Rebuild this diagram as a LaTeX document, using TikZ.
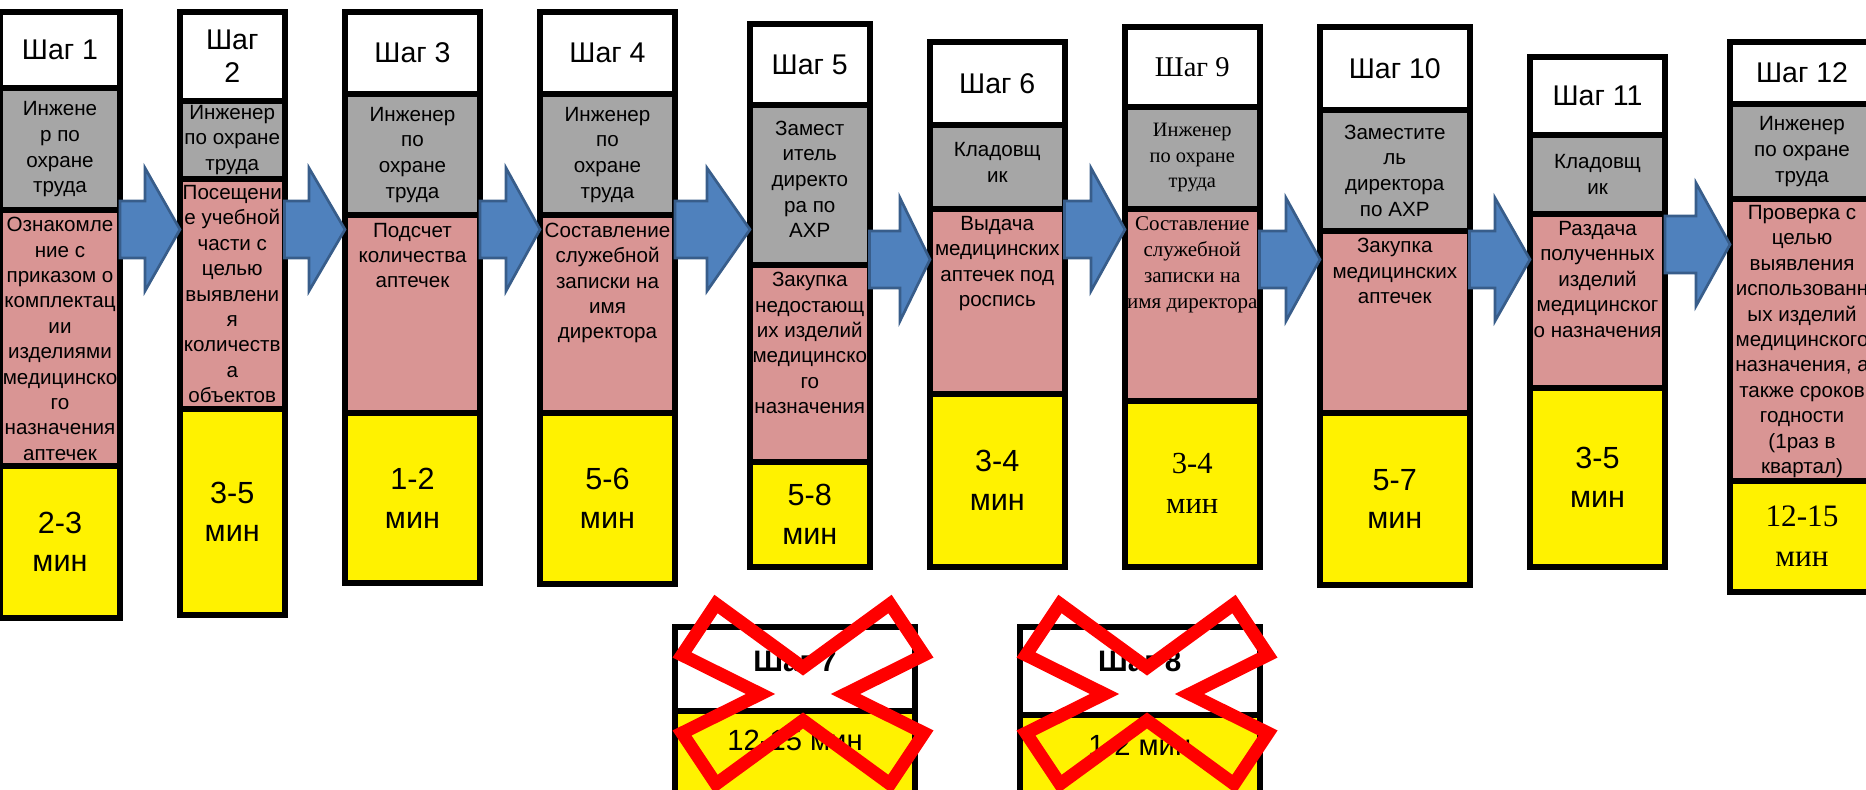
\documentclass[tikz,border=0pt]{standalone}
\usepackage{fontspec}
\setmainfont{Liberation Sans}
\newfontfamily\timesf{Liberation Serif}
\usepackage{tikz}
\usetikzlibrary{positioning,calc}
\newlength\px
\setlength\px{0.5pt}
\definecolor{rolegray}{HTML}{A6A6A6}
\definecolor{taskpink}{HTML}{D99594}
\definecolor{arrowblue}{HTML}{4F81BD}
\definecolor{arrowedge}{HTML}{385D8A}

% block arrow from column #1 to column #2, centred at height #3, head length #4
\newcommand\flow[4]{%
  \path (#1.east |- 0,#3) coordinate (#1o) (#2.west |- 0,#3) coordinate (#2i);
  \draw[blockarrow] ($(#1o)+(0,-28.5)$) -- ($(#2i)+(-#4,-28.5)$) -- ($(#2i)+(-#4,-61.5)$) -- (#2i)
    -- ($(#2i)+(-#4,61.5)$) -- ($(#2i)+(-#4,28.5)$) -- ($(#1o)+(0,28.5)$) -- cycle;}

\begin{document}
\begin{tikzpicture}[x=0.5pt, y=-0.5pt,
    cell/.style = {draw, line width=3pt, inner sep=0pt, outer sep=0pt, align=center, minimum width=#1\px},
    head/.style = {cell=#1, fill=white, font=\fontsize{14.25}{16.6}\selectfont},
    role/.style = {cell=#1, fill=rolegray, font=\fontsize{10.3}{12.85}\selectfont},
    task/.style = {cell=#1, fill=taskpink},
    time/.style = {cell=#1, fill=yellow, font=\fontsize{15.3}{19.25}\selectfont},
    tasktext/.style = {inner sep=0pt, align=center, font=\fontsize{10.3}{12.7}\selectfont},
    blockarrow/.style = {fill=arrowblue, draw=arrowedge, line width=1.35pt},
    strike/.style = {draw=red, line width=6.5pt}
  ]
  \useasboundingbox (0,0) rectangle (1866,790);
  \clip (0,0) rectangle (1866,790);

  % step 1
  \node[head=120, anchor=north west, minimum height=76.5\px] (h1) at (0,12) {Шаг 1};
  \node[role=120, below=0pt of h1, minimum height=121.5\px] (r1) {Инжене\\р по\\охране\\труда};
  \node[task=120, below=0pt of r1, minimum height=256\px] (k1) {};
  \node[time=120, below=0pt of k1, minimum height=152\px] (m1) {2-3\\мин};
  \node[tasktext, below=7\px of k1.north] (t1) {Ознакомле\\ние с\\приказом о\\комплектац\\ии\\изделиями\\медицинско\\го\\назначения\\аптечек};

  % step 2
  \node[head=104.5, anchor=north west, minimum height=89\px] (h2) at (180,12) {Шаг\\2};
  \node[role=104.5, below=0pt of h2, minimum height=78\px] (r2) {Инженер\\по охране\\труда};
  \node[task=104.5, below=0pt of r2, minimum height=230\px] (k2) {};
  \node[time=104.5, below=0pt of k2, minimum height=206\px] (m2) {3-5\\мин};
  \node[tasktext, below=6\px of k2.north] (t2) {Посещени\\е учебной\\части с\\целью\\выявлени\\я\\количеств\\а\\объектов};

  % step 3
  \node[head=135, anchor=north west, minimum height=82\px] (h3) at (345,12) {Шаг 3};
  \node[role=135, below=0pt of h3, minimum height=121.5\px] (r3) {Инженер\\по\\охране\\труда};
  \node[task=135, below=0pt of r3, minimum height=198\px] (k3) {};
  \node[time=135, below=0pt of k3, minimum height=169.5\px] (m3) {1-2\\мин};
  \node[tasktext, below=7\px of k3.north] (t3) {Подсчет\\количества\\аптечек};

  % step 4
  \node[head=135, anchor=north west, minimum height=82\px] (h4) at (540,12) {Шаг 4};
  \node[role=135, below=0pt of h4, minimum height=121.5\px] (r4) {Инженер\\по\\охране\\труда};
  \node[task=135, below=0pt of r4, minimum height=198\px] (k4) {};
  \node[time=135, below=0pt of k4, minimum height=170\px] (m4) {5-6\\мин};
  \node[tasktext, below=7\px of k4.north] (t4) {Составление\\служебной\\записки на\\имя\\директора};

  % step 5
  \node[head=119.5, anchor=north west, minimum height=81.5\px] (h5) at (750,24) {Шаг 5};
  \node[role=119.5, below=0pt of h5, minimum height=159.5\px, text depth=6pt] (r5) {Замест\\итель\\директо\\ра по\\АХР};
  \node[task=119.5, below=0pt of r5, minimum height=197\px] (k5) {};
  \node[time=119.5, below=0pt of k5, minimum height=104.5\px] (m5) {5-8\\мин};
  \node[tasktext, below=7\px of k5.north] (t5) {Закупка\\недостающ\\их изделий\\медицинско\\го\\назначения};

  % step 6
  \node[head=134.5, anchor=north west, minimum height=83\px] (h6) at (930,42) {Шаг 6};
  \node[role=134.5, below=0pt of h6, minimum height=84\px, text depth=4.5pt] (r6) {Кладовщ\\ик};
  \node[task=134.5, below=0pt of r6, minimum height=185\px] (k6) {};
  \node[time=134.5, below=0pt of k6, minimum height=172.5\px] (m6) {3-4\\мин};
  \node[tasktext, below=7\px of k6.north] (t6) {Выдача\\медицинских\\аптечек под\\роспись};

  % step 9
  \node[head=134.5, anchor=north west, minimum height=80\px, font=\timesf\fontsize{14.3}{16.6}\selectfont] (h9) at (1125,27) {Шаг 9};
  \node[role=134.5, below=0pt of h9, minimum height=102\px, font=\timesf\fontsize{10.2}{12.75}\selectfont] (r9) {Инженер\\по охране\\труда};
  \node[task=134.5, below=0pt of r9, minimum height=192\px] (k9) {};
  \node[time=134.5, below=0pt of k9, minimum height=165.5\px, font=\timesf\fontsize{15.3}{20}\selectfont] (m9) {3-4\\мин};
  \node[tasktext, below=7\px of k9.north, font=\timesf\fontsize{10.5}{12.95}\selectfont] (t9) {Составление\\служебной\\записки на\\имя директора};

  % step 10
  \node[head=149.5, anchor=north west, minimum height=83\px] (h10) at (1320,27) {Шаг 10};
  \node[role=149.5, below=0pt of h10, minimum height=121\px] (r10) {Заместите\\ль\\директора\\по АХР};
  \node[task=149.5, below=0pt of r10, minimum height=182.5\px] (k10) {};
  \node[time=149.5, below=0pt of k10, minimum height=171\px] (m10) {5-7\\мин};
  \node[tasktext, below=7\px of k10.north] (t10) {Закупка\\медицинских\\аптечек};

  % step 11
  \node[head=135, anchor=north west, minimum height=78.5\px] (h11) at (1530,57) {Шаг 11};
  \node[role=135, below=0pt of h11, minimum height=78.5\px] (r11) {Кладовщ\\ик};
  \node[task=135, below=0pt of r11, minimum height=174.5\px] (k11) {};
  \node[time=135, below=0pt of k11, minimum height=178\px] (m11) {3-5\\мин};
  \node[tasktext, below=7\px of k11.north] (t11) {Раздача\\полученных\\изделий\\медицинског\\о назначения};

  % step 12
  \node[head=144, anchor=north west, minimum height=62\px] (h12) at (1730,42) {Шаг 12};
  \node[role=144, below=0pt of h12, minimum height=95\px] (r12) {Инженер\\по охране\\труда};
  \node[task=144, below=0pt of r12, minimum height=282\px] (k12) {};
  \node[time=144, below=0pt of k12, minimum height=111\px, font=\timesf\fontsize{15.6}{20}\selectfont] (m12) {12-15\\мин};
  \node[tasktext, below=6\px of k12.north] (t12) {Проверка с\\целью\\выявления\\использованн\\ых изделий\\медицинского\\назначения, а\\также сроков\\годности\\(1раз в\\квартал)};

  % dropped steps 7 and 8
  \node[head=240, anchor=north west, minimum height=84\px, text depth=8pt, font=\bfseries\fontsize{14.8}{17}\selectfont] (h7) at (675,627) {Шаг 7};
  \node[time=240, below=0pt of h7, minimum height=109\px, text depth=25.5pt, font=\fontsize{14.6}{17}\selectfont] (m7) {12-15 мин};
  \node[head=239.5, anchor=north west, minimum height=88\px, text depth=10pt, font=\bfseries\fontsize{14.8}{17}\selectfont] (h8) at (1020,627) {Шаг 8};
  \node[time=239.5, below=0pt of h8, minimum height=105\px, text depth=22.5pt, font=\fontsize{14.6}{17}\selectfont] (m8) {1-2 мин};

  % arrows
  \flow{r1}{r2}{229.5}{35}
  \flow{r2}{r3}{229.5}{36}
  \flow{r3}{r4}{229.5}{34}
  \flow{r4}{r5}{229.5}{43}
  \flow{r5}{r6}{259.5}{30}
  \flow{r6}{r9}{229.5}{34}
  \flow{r9}{r10}{259.5}{34}
  \flow{r10}{r11}{259.5}{35}
  \flow{r11}{r12}{244.5}{34}

  % crosses over steps 7 and 8
  \foreach \cx in {803,1147}
    \draw[strike, shift={(\cx,694)}] (-87,-90) -- (0,-26.5) -- (87,-90) -- (121,-39) -- (42.5,0) -- (121,39)
      -- (87,90) -- (0,26.5) -- (-87,90) -- (-121,39) -- (-42.5,0) -- (-121,-39) -- cycle;
\end{tikzpicture}
\end{document}
